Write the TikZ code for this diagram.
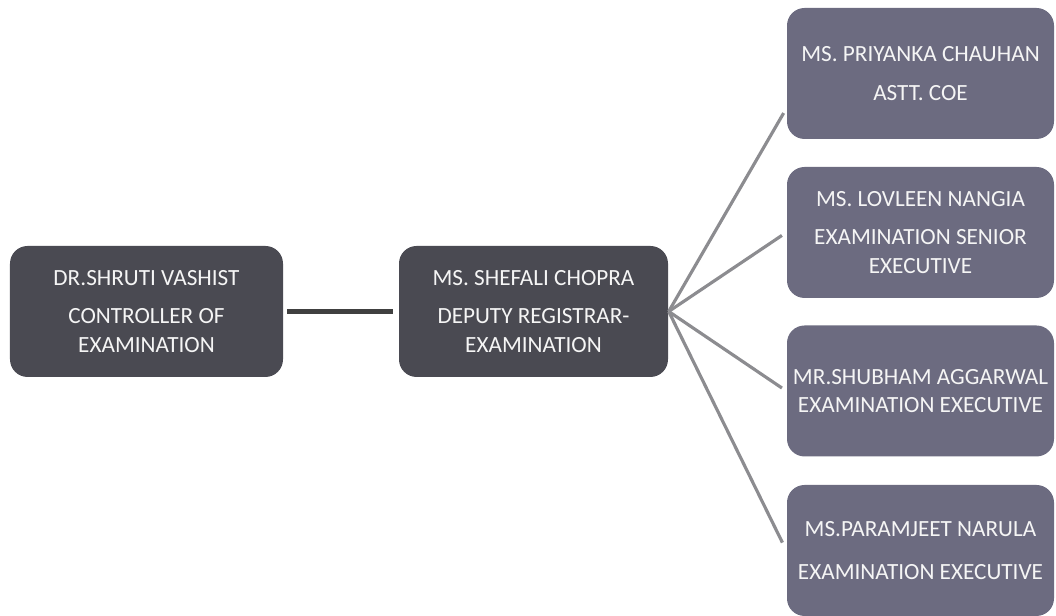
\documentclass[tikz,border=0pt]{standalone}
\usepackage{fontspec}
\setmainfont{Carlito}
\definecolor{darkbox}{HTML}{4A4A52}
\definecolor{lightbox}{HTML}{6C6B80}
\definecolor{linkgray}{HTML}{8C8C90}
\tikzset{
  headbox/.style={rectangle, rounded corners=5pt, fill=darkbox, text=white!92!gray,
    minimum width=2.73cm, minimum height=1.31cm, align=center,
    font=\fontsize{6.6}{8.2}\selectfont, inner sep=1pt},
  staffbox/.style={headbox, fill=lightbox, minimum width=2.67cm}
}
\begin{document}
\begin{tikzpicture}
    \useasboundingbox (0,0) rectangle (10.56,6.16);

    \node[headbox] (n1) at (1.465,3.045) {DR.SHRUTI VASHIST\\[2.5pt]CONTROLLER OF\\EXAMINATION};
    \node[headbox, minimum width=2.69cm] (n2) at (5.335,3.045) {MS. SHEFALI CHOPRA\\[2.5pt]DEPUTY REGISTRAR-\\EXAMINATION};
    \node[staffbox] (n3) at (9.205,5.425) {MS. PRIYANKA CHAUHAN\\[3pt]ASTT. COE};
    \node[staffbox] (n4) at (9.205,3.835) {MS. LOVLEEN NANGIA\\[2.5pt]EXAMINATION SENIOR\\EXECUTIVE};
    \node[staffbox] (n5) at (9.205,2.25) {MR.SHUBHAM AGGARWAL\\EXAMINATION EXECUTIVE};
    \node[staffbox] (n6) at (9.205,0.655) {MS.PARAMJEET NARULA\\[4pt]EXAMINATION EXECUTIVE};

    \draw[line width=1.2pt, black!75, shorten <=1pt, shorten >=1.5pt] (n1) -- (n2);
    \draw[line width=0.9pt, linkgray, shorten >=1.5pt] (n2.east) -- ([yshift=-3.5mm]n3.west);
    \draw[line width=0.9pt, linkgray, shorten >=1.5pt] (n2.east) -- (n4.west);
    \draw[line width=0.9pt, linkgray, shorten >=1.5pt] (n2.east) -- (n5.west);
    \draw[line width=0.9pt, linkgray, shorten >=2.5pt] (n2.east) -- (n6.west);
\end{tikzpicture}
\end{document}
